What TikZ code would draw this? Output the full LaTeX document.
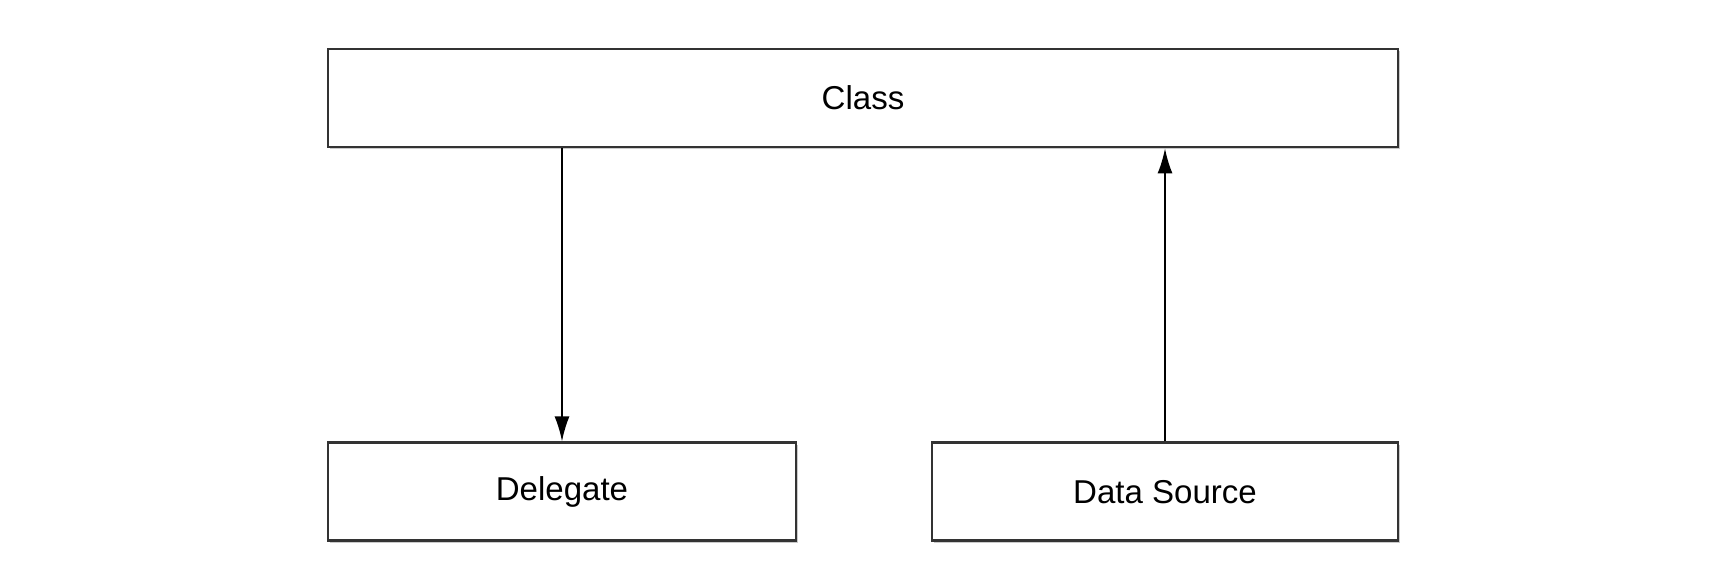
\documentclass[tikz,border=0pt]{standalone}
\usepackage{fontspec}
\setmainfont{Liberation Sans}
\usetikzlibrary{positioning,arrows.meta,shadows}

\begin{document}
\begin{tikzpicture}[
  every node/.style={font=\fontsize{9.4}{11}\selectfont},
  box/.style={draw=black!80,line width=0.8pt,fill=white,rectangle,
    minimum height=0.98cm,inner sep=0pt,
    drop shadow={shadow xshift=0.7pt,shadow yshift=-0.7pt,fill=black!35,opacity=0.6}},
  every path/.style={>={Latex[length=2.5mm,width=1.5mm]}},
  ]
  \useasboundingbox (0,0) rectangle (17.26,5.86);
  \node[box,minimum width=10.7cm](class) at (8.63,4.88){Class};
  \node[box,minimum width=4.68cm,below right=2.93cm and 0cm of class.south west](delegate){Delegate};
  \node[box,minimum width=4.66cm,below left=2.93cm and 0cm of class.south east](datasrc){Data Source};
  \draw[->,line width=0.5pt] (class.south -| delegate.north) -- (delegate.north);
  \draw[->,line width=0.5pt] (datasrc.north) -- (datasrc.north |- class.south);
\end{tikzpicture}
\end{document}
